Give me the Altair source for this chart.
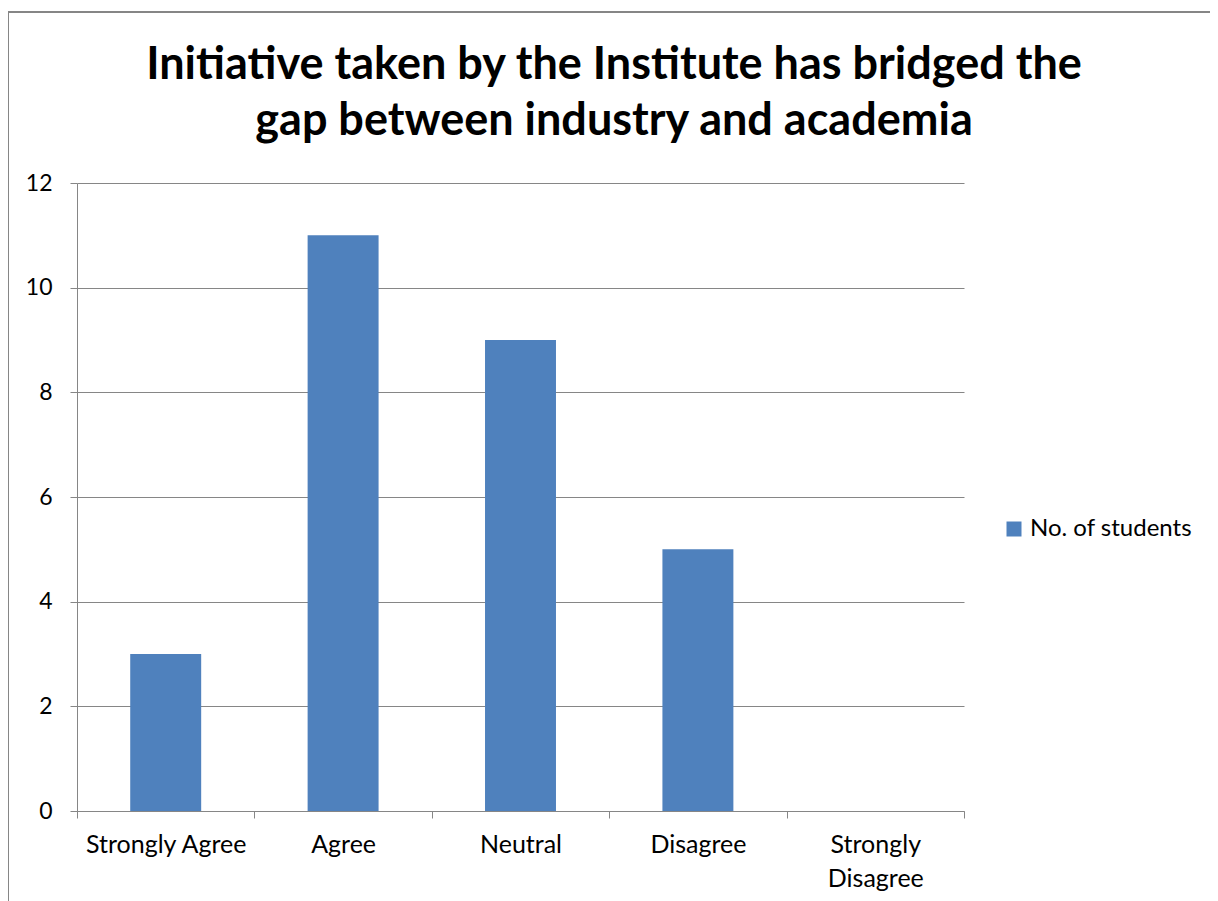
import altair as alt
import pandas as pd

categories = ["Strongly Agree", "Agree", "Neutral", "Disagree", "Strongly Disagree"]
values = [3, 11, 9, 5, 0]
series_name = "No. of students"
title_lines = ["Initiative taken by the Institute has bridged the",
               "gap between industry and academia"]

df = pd.DataFrame({"category": categories, "value": values, "series": series_name})
title_df = pd.DataFrame({"title": ["\n".join(title_lines)]})

FONT = "Lato"
GRAY = "#868686"

bars = alt.Chart(df).mark_bar(width=alt.RelativeBandSize(0.4), color="#4F81BD").encode(
    x=alt.X("category:N", sort=categories, title=None,
            scale=alt.Scale(paddingInner=0, paddingOuter=0),
            axis=alt.Axis(labelAngle=0, tickBand="extent", domainColor=GRAY, tickColor=GRAY,
                          tickSize=7, labelFontSize=25, labelFont=FONT, labelColor="#000000",
                          labelPadding=14, grid=False, labelLimit=0,
                          labelExpr="datum.label == 'Strongly Disagree' ? ['Strongly', 'Disagree'] : datum.label",
                          labelLineHeight=34)),
    y=alt.Y("value:Q", title=None, scale=alt.Scale(domain=[0, 12]),
            axis=alt.Axis(values=[0, 2, 4, 6, 8, 10, 12], tickSize=7, domainColor=GRAY,
                          tickColor=GRAY, gridColor=GRAY, gridWidth=1, labelFontSize=23,
                          labelFont=FONT, labelColor="#000000", labelPadding=18)),
    fill=alt.Fill("series:N", scale=alt.Scale(range=["#4F81BD"]),
                  legend=alt.Legend(title=None, orient="none", legendX=925, legendY=334,
                                    symbolType="square", symbolSize=225, labelFontSize=24,
                                    labelFont=FONT, labelColor="#000000", symbolStrokeWidth=0,
                                    labelOffset=4, labelLimit=0)),
)

title_text = alt.Chart(title_df).mark_text(
    font=FONT, fontSize=45, fontWeight="bold", color="#000000", lineBreak="\n",
    lineHeight=56, align="center", baseline="alphabetic",
).encode(text="title:N", x=alt.value(537), y=alt.value(-104))

border_left = alt.Chart(df).mark_rule(color=GRAY, strokeWidth=1.5).encode(
    x=alt.value(-69), y=alt.value(-171), y2=alt.value(760))
border_top = alt.Chart(df).mark_rule(color=GRAY, strokeWidth=1.5).encode(
    x=alt.value(-69), x2=alt.value(1250), y=alt.value(-171))

chart = alt.layer(bars, title_text, border_left, border_top).properties(
    width=887, height=628,
    autosize=alt.AutoSizeParams(type="none"),
    padding={"left": 69, "top": 175, "right": 246, "bottom": 92},
).configure_view(stroke=None)

chart.save("out.html", embed_options={"renderer": "svg", "actions": False})
